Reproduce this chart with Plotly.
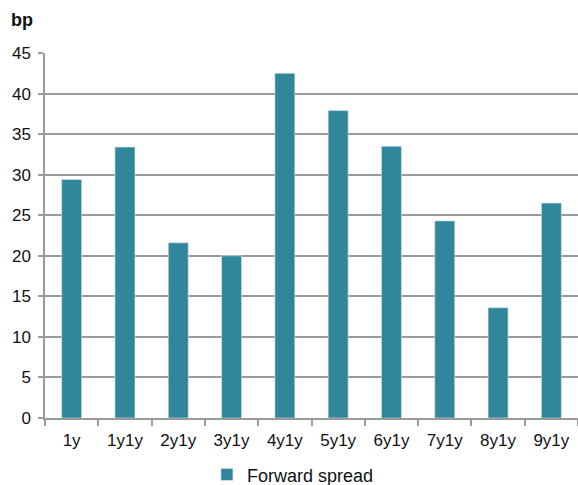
import plotly.graph_objects as go

# Forward spread by tenor bucket (basis points)
categories = ["1y", "1y1y", "2y1y", "3y1y", "4y1y", "5y1y", "6y1y", "7y1y", "8y1y", "9y1y"]
forward_spread = [29.4, 33.4, 21.6, 20.0, 42.5, 37.9, 33.5, 24.3, 13.6, 26.5]
y_ticks = [0, 5, 10, 15, 20, 25, 30, 35, 40, 45]

BAR_COLOR = "#31869B"
GRID = "#9a9a9a"
FONT = "Liberation Sans, Arial, sans-serif"

fig = go.Figure(
    go.Bar(
        x=categories,
        y=forward_spread,
        name="Forward spread",
        marker=dict(color=BAR_COLOR, line=dict(color="#d6e8ee", width=0.6)),
        showlegend=True,
    )
)

fig.update_layout(
    width=578,
    height=485,
    margin=dict(l=45, r=0, t=53, b=67, autoexpand=False),
    paper_bgcolor="white",
    plot_bgcolor="white",
    font=dict(family=FONT, size=17, color="#111111"),
    bargap=0.625,
    showlegend=True,
    legend=dict(
        orientation="h",
        xref="container",
        yref="container",
        x=0.358,
        xanchor="left",
        y=0.021,
        yanchor="middle",
        font=dict(size=18),
        itemwidth=30,
    ),
    annotations=[
        dict(
            text="<b>bp</b>",
            xref="paper",
            yref="paper",
            x=-0.068,
            y=1.09,
            xanchor="left",
            yanchor="middle",
            showarrow=False,
            font=dict(size=18, family=FONT, color="#111111"),
        )
    ],
)

fig.update_xaxes(
    type="category",
    showline=True,
    linecolor=GRID,
    linewidth=1.5,
    ticks="outside",
    tickson="boundaries",
    ticklen=6,
    tickcolor=GRID,
    tickwidth=1.5,
    showgrid=False,
    tickfont=dict(size=17),
    ticklabelstandoff=6,
)

fig.update_yaxes(
    range=[0, 45],
    tickvals=y_ticks,
    showline=True,
    linecolor=GRID,
    linewidth=1.5,
    showgrid=True,
    gridcolor=GRID,
    gridwidth=1.5,
    ticks="outside",
    ticklen=5,
    tickcolor=GRID,
    tickwidth=1.5,
    zeroline=False,
    tickfont=dict(size=17),
    ticklabelstandoff=4,
)

fig.write_html("out.html")
